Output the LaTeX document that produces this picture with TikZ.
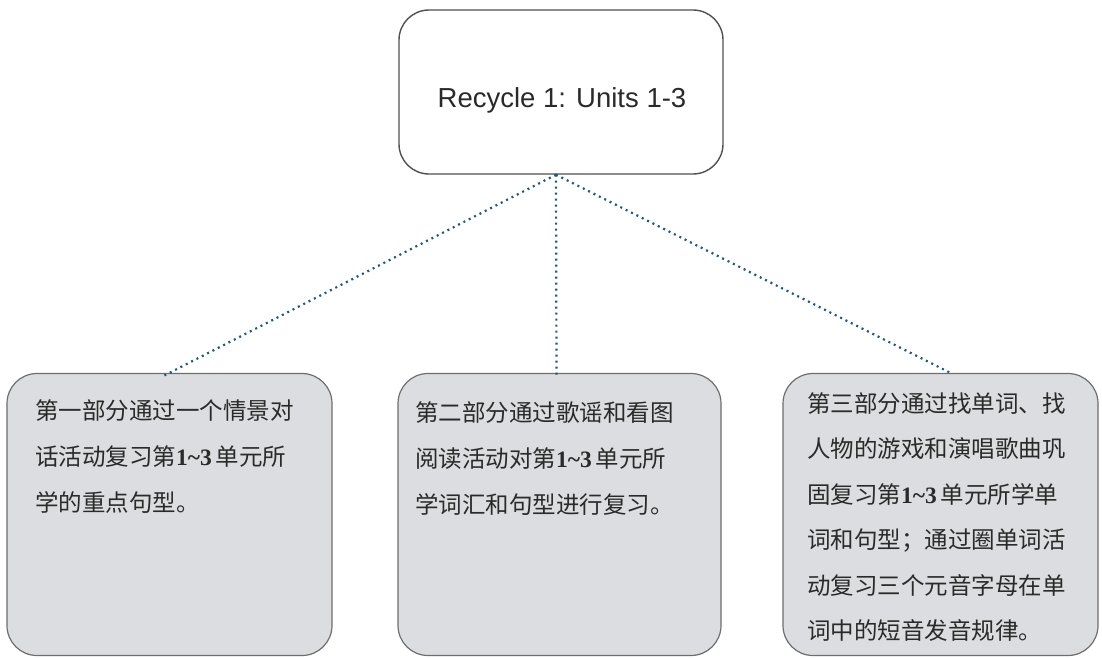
\documentclass[tikz,border=0pt]{standalone}
\usepackage{fontspec}
\setmainfont{Liberation Sans}
\newfontfamily\cjk{Noto Sans CJK SC}
\newfontfamily\numserif{Liberation Serif}
\newcommand\numtxt[1]{{\numserif\bfseries #1}}
\definecolor{boxfill}{HTML}{DCDDE0}
\definecolor{boxline}{HTML}{6E6E6E}
\definecolor{topline}{HTML}{505050}
\definecolor{dotc}{HTML}{1F5A78}
\definecolor{txtc}{HTML}{2A2A2A}
\begin{document}
\begin{tikzpicture}[x=1pt,y=-1pt,
  topbox/.style={draw=topline, line width=1.4pt, fill=white, rounded corners=30pt,
    minimum width=324pt, minimum height=164pt, inner sep=0pt},
  partbox/.style={draw=boxline, line width=1.2pt, fill=boxfill, rounded corners=30pt,
    minimum height=282pt, inner sep=0pt},
  toptxt/.style={font=\fontsize{27.5}{32}\selectfont, text=txtc, inner sep=0pt},
  parttxt/.style={font=\cjk\fontsize{23.5}{46}\selectfont, text=txtc, align=left,
    inner sep=0pt, anchor=north west},
  conn/.style={draw=dotc, line width=2.2pt, dash pattern=on 2pt off 4pt}]
\useasboundingbox (0,0) rectangle (1102,657);
\fill[white] (0,0) rectangle (1102,657);

\node[topbox] (top) at (561,92) {};
\node[toptxt] (toplabel) at (562,100) {Recycle 1: Units 1-3};

\node[partbox, minimum width=325pt] (b1) at (169.5,514.5) {};
\node[partbox, minimum width=323pt] (b2) at (559.5,514.5) {};
\node[partbox, minimum width=315pt] (b3) at (940.5,514.5) {};

\coordinate (apex) at ([xshift=-5pt]top.south);
\draw[conn] (apex) -- ([xshift=-6pt,yshift=-3pt]b1.north);
\draw[conn] (apex) -- ([xshift=-3pt,yshift=-5pt]b2.north);
\draw[conn] (apex) -- ([xshift=12pt,yshift=-1pt]b3.north);

\node[parttxt] (t1) at (35,399) {第一部分通过一个情景对\\话活动复习第\numtxt{1\textasciitilde3}\,单元所\\学的重点句型。};
\node[parttxt] (t2) at (415,401) {第二部分通过歌谣和看图\\阅读活动对第\numtxt{1\textasciitilde3}\,单元所\\学词汇和句型进行复习。};
\node[parttxt, font=\cjk\fontsize{23.5}{45.5}\selectfont] (t3) at (807,392) {第三部分通过找单词、找\\人物的游戏和演唱歌曲巩\\固复习第\numtxt{1\textasciitilde3}\,单元所学单\\词和句型；通过圈单词活\\动复习三个元音字母在单\\词中的短音发音规律。};
\end{tikzpicture}
\end{document}
